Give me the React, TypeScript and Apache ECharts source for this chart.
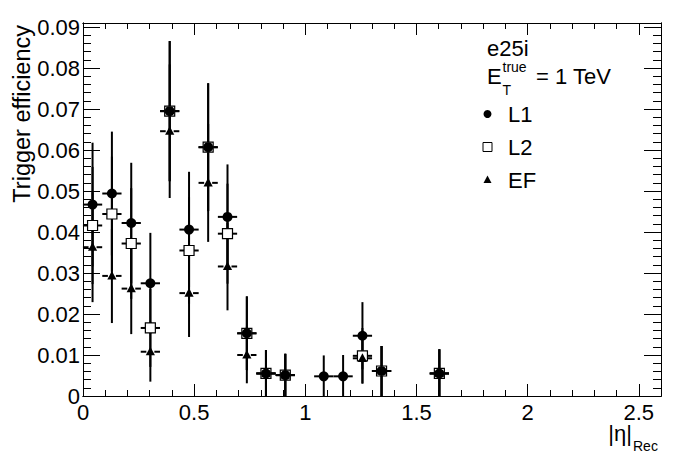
import React, { useEffect, useRef } from "react";
import * as echarts from "echarts";

// |eta|_Rec bin centres (bins of width ~0.0867 over 0..2.6)
const etaCenters = [0.043, 0.130, 0.217, 0.303, 0.390, 0.477, 0.563, 0.650, 0.737, 0.823, 0.910, 1.083, 1.170, 1.257, 1.343, 1.603];
const BIN_HALF_WIDTH = 0.0433;

const l1Eff = [0.0467, 0.0494, 0.0422, 0.0275, 0.0695, 0.0406, 0.0607, 0.0437, 0.0153, 0.0055, 0.0051, 0.0048, 0.0048, 0.0147, 0.0061, 0.0055];
const l1Err = [0.0151, 0.0151, 0.0147, 0.0123, 0.0171, 0.0141, 0.0156, 0.0128, 0.0090, 0.0057, 0.0052, 0.0051, 0.0052, 0.0082, 0.0061, 0.0059];

const l2Eff = [0.0416, 0.0444, 0.0372, 0.0166, 0.0695, 0.0355, 0.0607, 0.0396, 0.0153, 0.0055, 0.0051, null, null, 0.0098, 0.0061, 0.0055];
const l2Err = [0.0143, 0.0140, 0.0135, 0.0095, 0.0171, 0.0130, 0.0156, 0.0122, 0.0090, 0.0057, 0.0052, null, null, 0.0068, 0.0061, 0.0059];

const efEff = [0.0363, 0.0293, 0.0262, 0.0108, 0.0646, 0.0251, 0.0520, 0.0316, 0.0100, 0.0055, 0.0051, null, null, 0.0092, 0.0061, 0.0055];
const efErr = [0.0134, 0.0115, 0.0111, 0.0073, 0.0163, 0.0107, 0.0144, 0.0107, 0.0069, 0.0057, 0.0052, null, null, 0.0061, 0.0061, 0.0059];

const xMajorTicks = ["0", "0.5", "1", "1.5", "2", "2.5"];
const yMajorTicks = ["0", "0.01", "0.02", "0.03", "0.04", "0.05", "0.06", "0.07", "0.08", "0.09"];

const FONT = "'Liberation Sans', Arial, Helvetica, sans-serif";

function buildData(eff: (number | null)[], err: (number | null)[]) {
  const out: number[][] = [];
  etaCenters.forEach((x, i) => {
    const v = eff[i];
    const e = err[i];
    if (v !== null && e !== null) out.push([x, v, e]);
  });
  return out;
}

function barRenderer(gap: number) {
  return (params: any, api: any) => {
    const x = api.value(0);
    const y = api.value(1);
    const e = api.value(2);
    const c = api.coord([x, y]);
    const top = api.coord([x, y + e]);
    const bot = api.coord([x, Math.max(0, y - e)]);
    const l = api.coord([x - BIN_HALF_WIDTH, y]);
    const r = api.coord([x + BIN_HALF_WIDTH, y]);
    const st = { stroke: "#000", lineWidth: 2 };
    return {
      type: "group",
      children: [
        { type: "line", shape: { x1: c[0], y1: top[1], x2: c[0], y2: bot[1] }, style: st },
        { type: "line", shape: { x1: l[0], y1: c[1], x2: c[0] - gap, y2: c[1] }, style: st },
        { type: "line", shape: { x1: c[0] + gap, y1: c[1], x2: r[0], y2: c[1] }, style: st },
      ],
    };
  };
}

function markerRenderer(kind: string) {
  return (params: any, api: any) => {
    const c = api.coord([api.value(0), api.value(1)]);
    if (kind === "circle") {
      return { type: "circle", shape: { cx: c[0], cy: c[1], r: 5 }, style: { fill: "#000" } };
    }
    if (kind === "square") {
      return {
        type: "rect",
        shape: { x: c[0] - 5, y: c[1] - 5, width: 10, height: 10 },
        style: { fill: "#fff", stroke: "#000", lineWidth: 1.2 },
      };
    }
    return {
      type: "polygon",
      shape: { points: [[c[0], c[1] - 5], [c[0] - 4.6, c[1] + 3.6], [c[0] + 4.6, c[1] + 3.6]] },
      style: { fill: "#000" },
    };
  };
}

const isMultiple = (v: number, step: number) => Math.abs(v / step - Math.round(v / step)) < 1e-6;

export default function App() {
  const ref = useRef<HTMLDivElement>(null);
  useEffect(() => {
    if (!ref.current) return;
    const chart = echarts.init(ref.current, undefined, { renderer: "svg" });
    const axisLine = { show: true, onZero: false, lineStyle: { color: "#000", width: 1 } };
    const xAxisBase = { type: "value", min: 0, max: 2.6, splitLine: { show: false }, axisLine };
    const yAxisBase = { type: "value", min: 0, max: 0.091, splitLine: { show: false }, axisLine };
    const data1 = buildData(l1Eff, l1Err);
    const data2 = buildData(l2Eff, l2Err);
    const data3 = buildData(efEff, efErr);
    const legendText = (text: string, x: number, y: number, size = 22) => ({
      type: "text",
      x,
      y,
      style: { text, fill: "#000", font: `${size}px ${FONT}`, textAlign: "left", textVerticalAlign: "middle" },
    });
    chart.setOption({
      animation: false,
      backgroundColor: "#fff",
      grid: { left: 83, right: 35, top: 23, bottom: 76 },
      xAxis: [
        {
          ...xAxisBase,
          position: "bottom",
          interval: 0.5,
          axisTick: { show: true, inside: true, length: 12, lineStyle: { color: "#000" } },
          axisLabel: {
            show: true,
            color: "#000",
            fontSize: 22,
            fontFamily: FONT,
            margin: 5,
            formatter: (v: number) => (isMultiple(v, 0.5) ? xMajorTicks[Math.round(v / 0.5)] ?? "" : ""),
          },
        },
        {
          ...xAxisBase,
          position: "bottom",
          interval: 0.1,
          axisTick: { show: true, inside: true, length: 6, lineStyle: { color: "#000" } },
          axisLabel: { show: false },
        },
        {
          ...xAxisBase,
          position: "top",
          interval: 0.5,
          axisTick: { show: true, inside: true, length: 12, lineStyle: { color: "#000" } },
          axisLabel: { show: false },
        },
        {
          ...xAxisBase,
          position: "top",
          interval: 0.1,
          axisTick: { show: true, inside: true, length: 6, lineStyle: { color: "#000" } },
          axisLabel: { show: false },
        },
      ],
      yAxis: [
        {
          ...yAxisBase,
          position: "left",
          interval: 0.01,
          axisTick: { show: true, inside: true, length: 17, lineStyle: { color: "#000" } },
          axisLabel: {
            show: true,
            color: "#000",
            fontSize: 22,
            fontFamily: FONT,
            margin: 3,
            padding: [7, 0, 0, 0],
            formatter: (v: number) => (isMultiple(v, 0.01) ? yMajorTicks[Math.round(v / 0.01)] ?? "" : ""),
          },
        },
        {
          ...yAxisBase,
          position: "left",
          interval: 0.002,
          axisTick: { show: true, inside: true, length: 8, lineStyle: { color: "#000" } },
          axisLabel: { show: false },
        },
        {
          ...yAxisBase,
          position: "right",
          interval: 0.01,
          axisTick: { show: true, inside: true, length: 17, lineStyle: { color: "#000" } },
          axisLabel: { show: false },
        },
        {
          ...yAxisBase,
          position: "right",
          interval: 0.002,
          axisTick: { show: true, inside: true, length: 8, lineStyle: { color: "#000" } },
          axisLabel: { show: false },
        },
      ],
      series: [
        { type: "custom", name: "L1 bars", z: 2, data: data1, renderItem: barRenderer(0) },
        { type: "custom", name: "L2 bars", z: 2, data: data2, renderItem: barRenderer(0) },
        { type: "custom", name: "EF bars", z: 2, data: data3, renderItem: barRenderer(4) },
        { type: "custom", name: "L2", z: 3, data: data2, renderItem: markerRenderer("square") },
        { type: "custom", name: "L1", z: 4, data: data1, renderItem: markerRenderer("circle") },
        { type: "custom", name: "EF", z: 5, data: data3, renderItem: markerRenderer("triangle") },
      ],
      graphic: [
        {
          type: "text",
          x: 22,
          y: 25,
          rotation: Math.PI / 2,
          style: {
            text: "Trigger efficiency",
            fill: "#000",
            font: `23.5px ${FONT}`,
            textAlign: "right",
            textVerticalAlign: "middle",
          },
        },
        {
          type: "text",
          x: 632,
          y: 433,
          style: { text: "|η|", fill: "#000", font: `22px ${FONT}`, textAlign: "right", textVerticalAlign: "middle" },
        },
        {
          type: "text",
          x: 633,
          y: 446,
          style: { text: "Rec", fill: "#000", font: `14px ${FONT}`, textAlign: "left", textVerticalAlign: "middle" },
        },
        legendText("e25i", 487, 48),
        legendText("E", 487, 76),
        legendText("true", 502.5, 67, 14),
        legendText("T", 502.5, 90, 14),
        legendText("= 1 TeV", 536, 76),
        { type: "circle", shape: { cx: 487.5, cy: 114, r: 4 }, style: { fill: "#000" } },
        { type: "rect", shape: { x: 483, y: 142.5, width: 9, height: 9 }, style: { fill: "#fff", stroke: "#000", lineWidth: 1 } },
        { type: "polygon", shape: { points: [[487.5, 175.5], [483.5, 183], [491.5, 183]] }, style: { fill: "#000" } },
        legendText("L1", 508, 114),
        legendText("L2", 508, 147),
        legendText("EF", 508, 180),
      ],
    });
    return () => chart.dispose();
  }, []);
  return <div ref={ref} style={{ width: 696, height: 472, position: "absolute", left: 0, top: 0 }} />;
}
